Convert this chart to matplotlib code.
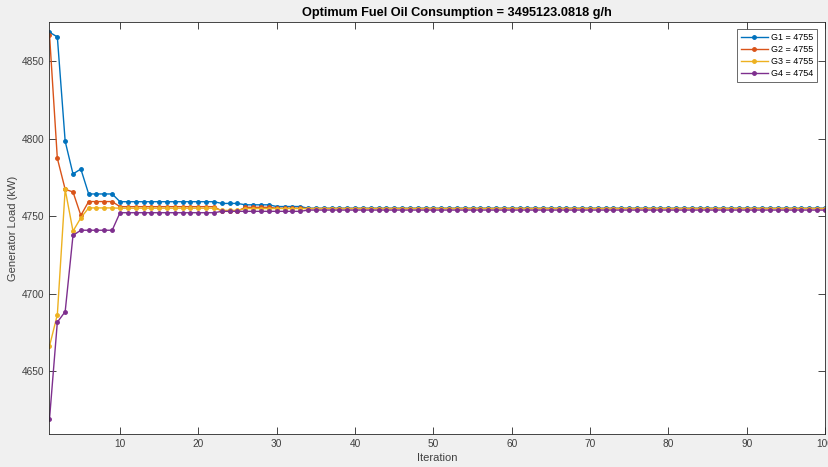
import numpy as np
import matplotlib
matplotlib.use("Agg")
import matplotlib.pyplot as plt

plt.rcParams['font.family'] = ['Liberation Sans', 'DejaVu Sans']

iterations = np.arange(1, 101)

# Generator loads (kW) per iteration, one list per generator
g1_head = [4868.7, 4865.7, 4798.4, 4777.3, 4780.5, 4764.4, 4764.4, 4764.4, 4764.4]
g2_head = [4867.2, 4787.4, 4767.4, 4765.7, 4750.6, 4759.5, 4759.5, 4759.5, 4759.5]
g3_head = [4666.3, 4686.5, 4767.4, 4740.4, 4749.0, 4755.4, 4755.4, 4755.4, 4755.4]
g4_head = [4619.2, 4681.7, 4688.5, 4737.7, 4741.0, 4741.0, 4741.0, 4741.0, 4741.0]

# plateaus after iteration 9: (value, number of iterations)
g1_tail = [(4759.4, 13), (4758.3, 3), (4757.4, 4), (4756.3, 4), (4755.2, 67)]
g2_tail = [(4756.2, 13), (4753.4, 3), (4755.8, 4), (4755.2, 4), (4755.0, 67)]
g3_tail = [(4755.2, 13), (4753.8, 3), (4755.0, 4), (4755.0, 4), (4755.0, 67)]
g4_tail = [(4752.3, 13), (4753.2, 3), (4753.2, 4), (4753.2, 4), (4754.0, 67)]

legend_labels = ['G1 = 4755', 'G2 = 4755', 'G3 = 4755', 'G4 = 4754']
colors = ['#0072BD', '#D95319', '#EDB120', '#7E2F8E']


def build(head, tail):
    vals = list(head)
    for v, n in tail:
        vals += [v] * n
    return np.array(vals)


series = [build(g1_head, g1_tail), build(g2_head, g2_tail),
          build(g3_head, g3_tail), build(g4_head, g4_tail)]

fig = plt.figure(figsize=(8.29, 4.67), dpi=100, facecolor='#f0f0f0')
ax = fig.add_axes([49.5 / 829, 1 - 434.3 / 467, (825 - 49.5) / 829, (434.3 - 21.7) / 467])
ax.set_facecolor('white')

for y, c, lab in zip(series, colors, legend_labels):
    ax.plot(iterations, y, color=c, lw=1.0, marker='o', ms=2.5, mec=c, mfc=c, label=lab)

ax.set_xlim(1, 100)
ax.set_ylim(4609.4, 4875.5)
ax.set_xticks(np.arange(10, 101, 10))
ax.set_yticks([4650, 4700, 4750, 4800, 4850])
ax.tick_params(direction='in', length=5, width=0.6, colors='#262626', labelsize=7.3,
               top=True, right=True, labelcolor='#404040')
for s in ax.spines.values():
    s.set_color('#262626')
    s.set_linewidth(0.6)

ax.set_xlabel('Iteration', fontsize=8, color='#404040', labelpad=3)
ax.set_ylabel('Generator Load (kW)', fontsize=8, color='#404040', labelpad=3)
ax.set_title('Optimum Fuel Oil Consumption = 3495123.0818 g/h', fontsize=9.2,
             fontweight='bold', color='black', pad=4, x=0.525)

leg = ax.legend(loc='upper right', fontsize=6.5, frameon=True, fancybox=False,
                edgecolor='#262626', handlelength=3.0, borderpad=0.4,
                labelspacing=0.35, handletextpad=0.35, borderaxespad=0,
                bbox_to_anchor=(0.9897, 0.982))
leg.get_frame().set_linewidth(0.6)

fig.savefig('out.png', dpi=100, facecolor=fig.get_facecolor())
